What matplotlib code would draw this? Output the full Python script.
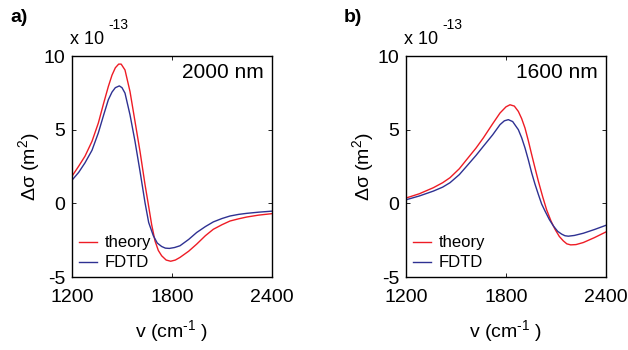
import matplotlib
matplotlib.use('Agg')
import matplotlib.pyplot as plt
import numpy as np

plt.rcParams['font.family'] = ['Liberation Sans', 'DejaVu Sans']
plt.rcParams['mathtext.fontset'] = 'custom'
plt.rcParams['mathtext.rm'] = 'Liberation Sans'
plt.rcParams['mathtext.it'] = 'Liberation Sans'
plt.rcParams['axes.unicode_minus'] = False

# cross-section change, units of 1e-13 m^2
wn_a_theory = [1200, 1240, 1278, 1320, 1358, 1390, 1418, 1440, 1460, 1480, 1495,
               1518, 1548, 1578, 1608, 1638, 1658, 1678, 1698, 1718, 1738, 1765,
               1792, 1820, 1848, 1900, 1948, 2000, 2048, 2100, 2148, 2200, 2248,
               2320, 2400]
ds_a_theory = [1.84, 2.52, 3.2, 4.21, 5.45, 6.8, 7.93, 8.7, 9.2, 9.45, 9.45,
               9.05, 7.59, 5.56, 3.53, 1.28, -0.07, -1.45, -2.55, -3.2, -3.56, -3.85,
               -3.93, -3.85, -3.67, -3.25, -2.77, -2.2, -1.76, -1.45, -1.2, -1.05, -0.93,
               -0.8, -0.7]

wn_a_fdtd = [1200, 1240, 1278, 1320, 1358, 1390, 1418, 1440, 1460, 1484, 1500,
             1518, 1548, 1578, 1608, 1638, 1660, 1688, 1712, 1738, 1760, 1784,
             1815, 1848, 1900, 1948, 2000, 2048, 2100, 2148, 2200, 2248, 2320, 2400]
ds_a_fdtd = [1.57, 2.1, 2.75, 3.6, 4.78, 6.0, 7.03, 7.55, 7.85, 7.97, 7.85,
             7.48, 6.01, 4.21, 2.18, 0.05, -1.3, -2.2, -2.7, -2.93, -3.04, -3.06,
             -3.0, -2.88, -2.45, -1.98, -1.58, -1.26, -1.03, -0.86, -0.75, -0.68, -0.6, -0.53]

wn_b_theory = [1200, 1280, 1364, 1420, 1464, 1520, 1564, 1620, 1664, 1720, 1764,
               1800, 1824, 1850, 1874, 1894, 1914, 1934, 1954, 1974, 1994, 2020,
               2044, 2070, 2094, 2120, 2144, 2165, 2188, 2220, 2264, 2330, 2400]
ds_b_theory = [0.36, 0.65, 1.06, 1.4, 1.74, 2.35, 2.97, 3.75, 4.44, 5.4, 6.13,
               6.55, 6.69, 6.6, 6.24, 5.75, 5.11, 4.25, 3.31, 2.4, 1.51, 0.45,
               -0.45, -1.2, -1.76, -2.25, -2.55, -2.75, -2.82, -2.8, -2.66, -2.33, -1.94]

wn_b_fdtd = [1200, 1280, 1364, 1420, 1464, 1520, 1564, 1620, 1664, 1720, 1764,
             1790, 1814, 1840, 1874, 1894, 1914, 1934, 1954, 1974, 1994, 2014,
             2034, 2060, 2084, 2110, 2134, 2154, 2174, 2210, 2264, 2330, 2400]
ds_b_fdtd = [0.24, 0.5, 0.83, 1.1, 1.4, 1.95, 2.52, 3.25, 3.87, 4.65, 5.34,
             5.6, 5.68, 5.55, 5.0, 4.45, 3.76, 2.95, 2.07, 1.3, 0.61, -0.05,
             -0.52, -1.1, -1.53, -1.9, -2.09, -2.2, -2.23, -2.18, -2.03, -1.78, -1.49]

panels = [
    ('a)', '2000 nm', wn_a_theory, ds_a_theory, wn_a_fdtd, ds_a_fdtd),
    ('b)', '1600 nm', wn_b_theory, ds_b_theory, wn_b_fdtd, ds_b_fdtd),
]

red = '#ee1c25'
blue = '#2e3192'

W, H = 628, 350
fig = plt.figure(figsize=(W / 100, H / 100), dpi=100)
lefts = [72, 406]

for left, (tag, wl, xt, yt, xf, yf) in zip(lefts, panels):
    ax = fig.add_axes([left / W, 1 - 277 / H, 200 / W, 221 / H])
    ax.plot(xt, yt, color=red, lw=1.0, label='theory')
    ax.plot(xf, yf, color=blue, lw=1.0, label='FDTD')
    ax.set_xlim(1200, 2400)
    ax.set_ylim(-5, 10)
    ax.set_xticks([1200, 1800, 2400])
    ax.set_yticks([-5, 0, 5, 10])
    ax.tick_params(direction='in', length=3, width=0.6, labelsize=14,
                   top=True, right=True)
    ax.tick_params(axis='x', pad=9)
    ax.tick_params(axis='y', pad=5)
    for s in ax.spines.values():
        s.set_linewidth(1.0)
    ax.set_xlabel(r'v (cm$^{\text{-}1}$ )', fontsize=14, labelpad=8)
    ax.set_ylabel('Δσ (m$^{2}$)', fontsize=14, labelpad=1)
    ax.text(0.96, 0.925, wl, transform=ax.transAxes, ha='right', va='center',
            fontsize=15)
    # multiplier drawn by hand above the y axis
    fig.text((left - 2) / W, 1 - 44 / H, 'x 10', fontsize=13,
             ha='left', va='baseline')
    fig.text((left + 36) / W, 1 - 29 / H, '-13', fontsize=10,
             ha='left', va='baseline')
    ax.legend(loc='lower left', frameon=False, fontsize=12, handlelength=1.1,
              handletextpad=0.45, labelspacing=0.3, borderaxespad=0.2,
              borderpad=0.2)
    fig.text((left - 62) / W, 1 - 17 / H, tag, fontsize=14, fontweight='bold',
             ha='left', va='center')

fig.savefig('out.png', dpi=100)
